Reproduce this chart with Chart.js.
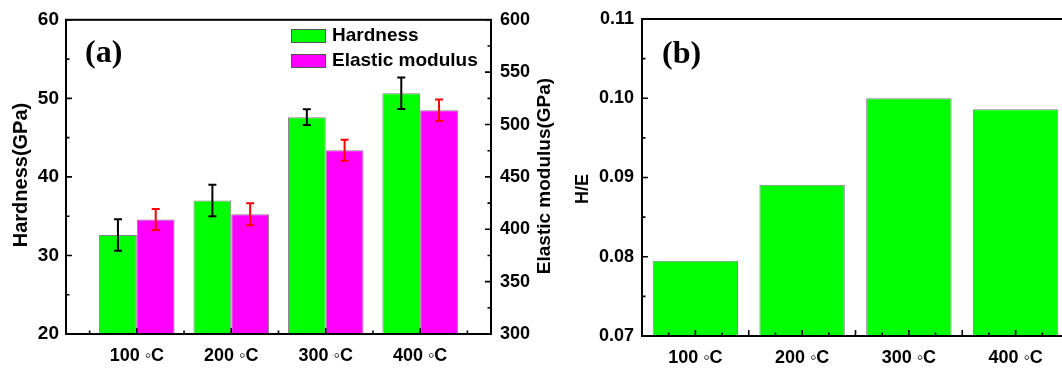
<!DOCTYPE html>
<html>
<head>
<meta charset="utf-8">
<title>Hardness / Elastic modulus / H/E</title>
<script src="https://cdn.jsdelivr.net/npm/chart.js@4.4.1/dist/chart.umd.min.js"></script>
<style>
  html, body { margin: 0; padding: 0; background: #fff; overflow: hidden; }
  #wrap { position: relative; width: 1062px; height: 369px; overflow: hidden; }
  #chart-a { position: absolute; left: 0; top: 0; }
  #chart-b { position: absolute; left: 556px; top: 0; }
</style>
</head>
<body>
<div id="wrap">
  <canvas id="chart-a" width="560" height="369"></canvas>
  <canvas id="chart-b" width="524" height="369"></canvas>
</div>
<script>
// values
const categories = ["100 \u25E6C", "200 \u25E6C", "300 \u25E6C", "400 \u25E6C"];
const positions = [1, 2, 3, 4];
const hardness = [32.6, 37.0, 47.6, 50.65];
const hardnessErr = [2.0, 2.0, 1.0, 2.0];
const modulus = [409.3, 414.3, 475.5, 513.6];
const modulusErr = [10, 10.5, 10, 10.3];
const hOverE = [0.0795, 0.0891, 0.1000, 0.0986];

const GREEN = "#00ff00";
const MAGENTA = "#ff00ff";
const BAR_EDGE = "#8a7a8a";
const SANS = "'Liberation Sans', Arial, sans-serif";
const SERIF = "'Liberation Serif', 'Times New Roman', serif";

function boldFont(size) {
  return { family: SANS, size: size, weight: "bold" };
}

function points(values) {
  return positions.map((x, i) => ({ x: x, y: values[i] }));
}

// frame + inward ticks, the way the original plotting tool draws them
function drawFrameAndTicks(chart, specs) {
  const { ctx, chartArea: a } = chart;
  ctx.save();
  ctx.strokeStyle = "#000";
  ctx.lineWidth = 2;
  ctx.strokeRect(a.left, a.top, a.right - a.left, a.bottom - a.top);
  ctx.lineWidth = 1.6;
  specs.forEach((s) => {
    const scale = chart.scales[s.id];
    const first = Math.ceil(scale.min / s.step - 1e-9);
    ctx.beginPath();
    for (let i = first; i * s.step <= scale.max + 1e-9; i++) {
      const v = i * s.step;
      const p = scale.getPixelForValue(v);
      const r = v / s.major;
      const len = Math.abs(r - Math.round(r)) < 1e-6 ? 6 : 3.5;
      if (s.side === "left") {
        ctx.moveTo(a.left, p);
        ctx.lineTo(a.left + len, p);
      } else if (s.side === "right") {
        ctx.moveTo(a.right, p);
        ctx.lineTo(a.right - len, p);
      } else {
        ctx.moveTo(p, a.bottom);
        ctx.lineTo(p, a.bottom - len);
      }
    }
    ctx.stroke();
  });
  ctx.restore();
}

function drawErrorBars(chart) {
  const ctx = chart.ctx;
  chart.data.datasets.forEach((ds, i) => {
    if (!ds.errors) return;
    const meta = chart.getDatasetMeta(i);
    const yScale = chart.scales[meta.yAxisID];
    ctx.save();
    ctx.strokeStyle = ds.errorColor;
    ctx.lineWidth = 2;
    meta.data.forEach((bar, j) => {
      const top = yScale.getPixelForValue(ds.data[j].y + ds.errors[j]);
      const bot = yScale.getPixelForValue(ds.data[j].y - ds.errors[j]);
      ctx.beginPath();
      ctx.moveTo(bar.x, top);
      ctx.lineTo(bar.x, bot);
      ctx.moveTo(bar.x - 4, top);
      ctx.lineTo(bar.x + 4, top);
      ctx.moveTo(bar.x - 4, bot);
      ctx.lineTo(bar.x + 4, bot);
      ctx.stroke();
    });
    ctx.restore();
  });
}

function drawRotated(ctx, text, x, y, size) {
  ctx.save();
  ctx.translate(x, y);
  ctx.rotate(-Math.PI / 2);
  ctx.font = "bold " + size + "px " + SANS;
  ctx.fillStyle = "#000";
  ctx.textAlign = "center";
  ctx.textBaseline = "middle";
  ctx.fillText(text, 0, 0);
  ctx.restore();
}

function drawPanelLetter(ctx, text, x, y) {
  ctx.save();
  ctx.font = "bold 32px " + SERIF;
  ctx.fillStyle = "#000";
  ctx.textAlign = "left";
  ctx.textBaseline = "alphabetic";
  ctx.fillText(text, x, y);
  ctx.restore();
}

const panelA = {
  id: "panelA",
  afterDatasetsDraw(chart) {
    drawErrorBars(chart);
    drawFrameAndTicks(chart, [
      { id: "x", step: 0.5, major: 1, side: "bottom" },
      { id: "y", step: 5, major: 10, side: "left" },
      { id: "y1", step: 25, major: 50, side: "right" },
    ]);
  },
  afterDraw(chart) {
    const ctx = chart.ctx;
    drawRotated(ctx, "Hardness(GPa)", 21, 175, 20);
    drawRotated(ctx, "Elastic modulus(GPa)", 545, 176, 19);
    drawPanelLetter(ctx, "(a)", 85, 62);

    // legend inside the plot, stacked
    ctx.save();
    chart.data.datasets.forEach((ds, i) => {
      const y = 29 + i * 25;
      ctx.fillStyle = ds.backgroundColor;
      ctx.fillRect(291, y, 35, 14);
      ctx.strokeStyle = "#555";
      ctx.lineWidth = 1;
      ctx.strokeRect(291.5, y + 0.5, 34, 13);
      ctx.fillStyle = "#000";
      ctx.font = "bold 19px " + SANS;
      ctx.textAlign = "left";
      ctx.textBaseline = "middle";
      ctx.fillText(ds.label, 332, y + 7);
    });
    ctx.restore();
  },
};

const panelB = {
  id: "panelB",
  afterDatasetsDraw(chart) {
    drawFrameAndTicks(chart, [
      { id: "x", step: 0.25, major: 0.5, side: "bottom" },
      { id: "y", step: 0.005, major: 0.01, side: "left" },
    ]);
  },
  afterDraw(chart) {
    drawRotated(chart.ctx, "H/E", 27, 189, 18);
    drawPanelLetter(chart.ctx, "(b)", 106, 63);
  },
};

const xScale = (min, max, height) => ({
  type: "linear",
  min: min,
  max: max,
  offset: false,
  afterBuildTicks: (s) => {
    s.ticks = positions.map((v) => ({ value: v }));
  },
  afterFit: (s) => {
    s.height = height;
  },
  ticks: {
    callback: (v, i) => categories[i],
    font: boldFont(18),
    color: "#000",
    padding: 11,
    maxRotation: 0,
    autoSkip: false,
  },
  grid: { display: false, drawTicks: false, offset: false },
  border: { display: false },
});

new Chart(document.getElementById("chart-a"), {
  type: "bar",
  data: {
    datasets: [
      {
        label: "Hardness",
        data: points(hardness),
        errors: hardnessErr,
        errorColor: "#000",
        yAxisID: "y",
        backgroundColor: GREEN,
        borderColor: BAR_EDGE,
        borderWidth: 1,
      },
      {
        label: "Elastic modulus",
        data: points(modulus),
        errors: modulusErr,
        errorColor: "#ff0000",
        yAxisID: "y1",
        backgroundColor: MAGENTA,
        borderColor: BAR_EDGE,
        borderWidth: 1,
      },
    ],
  },
  options: {
    responsive: false,
    animation: false,
    layout: { padding: { top: 19, left: 0, right: 0, bottom: 0 } },
    datasets: { bar: { categoryPercentage: 0.8, barPercentage: 1 } },
    plugins: { legend: { display: false }, tooltip: { enabled: false } },
    scales: {
      x: xScale(0.25, 4.75, 35),
      y: {
        position: "left",
        min: 20,
        max: 60,
        afterFit: (s) => {
          s.width = 66;
        },
        ticks: { stepSize: 10, font: boldFont(19), color: "#000", padding: 7 },
        grid: { display: false, drawTicks: false },
        border: { display: false },
      },
      y1: {
        position: "right",
        min: 300,
        max: 600,
        afterFit: (s) => {
          s.width = 69;
        },
        ticks: { stepSize: 50, font: boldFont(18), color: "#000", padding: 9 },
        grid: { display: false, drawTicks: false },
        border: { display: false },
      },
    },
  },
  plugins: [panelA],
});

new Chart(document.getElementById("chart-b"), {
  type: "bar",
  data: {
    datasets: [
      {
        label: "H/E",
        data: points(hOverE),
        backgroundColor: GREEN,
        borderColor: BAR_EDGE,
        borderWidth: 1,
      },
    ],
  },
  options: {
    responsive: false,
    animation: false,
    layout: { padding: { top: 19, left: 0, right: 11, bottom: 0 } },
    datasets: { bar: { categoryPercentage: 0.8, barPercentage: 1 } },
    plugins: { legend: { display: false }, tooltip: { enabled: false } },
    scales: {
      x: xScale(0.5, 4.5, 33),
      y: {
        position: "left",
        min: 0.07,
        max: 0.11,
        afterFit: (s) => {
          s.width = 86;
        },
        ticks: {
          stepSize: 0.01,
          font: boldFont(18),
          color: "#000",
          padding: 8,
          callback: (v) => Number(v).toFixed(2),
        },
        grid: { display: false, drawTicks: false },
        border: { display: false },
      },
    },
  },
  plugins: [panelB],
});
</script>
</body>
</html>
